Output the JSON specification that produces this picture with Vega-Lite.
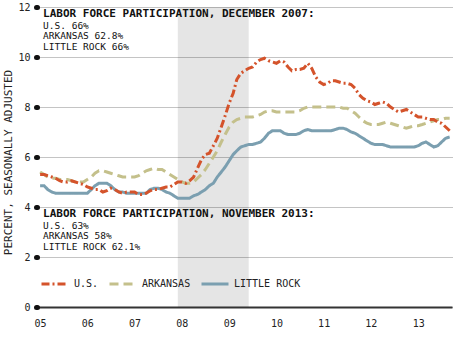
{
  "$schema": "https://vega.github.io/schema/vega-lite/v6.json",
  "width": 415,
  "height": 300,
  "autosize": {"type": "none"},
  "padding": {"left": 37, "top": 7, "right": 3, "bottom": 41},
  "background": "white",
  "config": {
    "view": {"stroke": null},
    "font": "DejaVu Sans Mono"
  },
  "datasets": {
    "rates": [
      {"d":"2005-01-01","us":5.3,"ar":5.4,"lr":4.85},
      {"d":"2005-02-01","us":5.3,"ar":5.3,"lr":4.85},
      {"d":"2005-03-01","us":5.25,"ar":5.2,"lr":4.7},
      {"d":"2005-04-01","us":5.2,"ar":5.15,"lr":4.6},
      {"d":"2005-05-01","us":5.15,"ar":5.15,"lr":4.55},
      {"d":"2005-06-01","us":5.05,"ar":5.1,"lr":4.55},
      {"d":"2005-07-01","us":5.0,"ar":5.1,"lr":4.55},
      {"d":"2005-08-01","us":5.0,"ar":5.1,"lr":4.55},
      {"d":"2005-09-01","us":5.05,"ar":5.05,"lr":4.55},
      {"d":"2005-10-01","us":5.0,"ar":5.0,"lr":4.55},
      {"d":"2005-11-01","us":4.95,"ar":5.0,"lr":4.55},
      {"d":"2005-12-01","us":4.9,"ar":5.0,"lr":4.55},
      {"d":"2006-01-01","us":4.8,"ar":5.1,"lr":4.55},
      {"d":"2006-02-01","us":4.75,"ar":5.2,"lr":4.7},
      {"d":"2006-03-01","us":4.7,"ar":5.35,"lr":4.85},
      {"d":"2006-04-01","us":4.7,"ar":5.45,"lr":4.95},
      {"d":"2006-05-01","us":4.6,"ar":5.45,"lr":4.95},
      {"d":"2006-06-01","us":4.65,"ar":5.4,"lr":4.95},
      {"d":"2006-07-01","us":4.75,"ar":5.35,"lr":4.85},
      {"d":"2006-08-01","us":4.7,"ar":5.3,"lr":4.7},
      {"d":"2006-09-01","us":4.6,"ar":5.25,"lr":4.6},
      {"d":"2006-10-01","us":4.55,"ar":5.2,"lr":4.6},
      {"d":"2006-11-01","us":4.6,"ar":5.2,"lr":4.55},
      {"d":"2006-12-01","us":4.6,"ar":5.2,"lr":4.55},
      {"d":"2007-01-01","us":4.6,"ar":5.2,"lr":4.55},
      {"d":"2007-02-01","us":4.5,"ar":5.25,"lr":4.55},
      {"d":"2007-03-01","us":4.5,"ar":5.35,"lr":4.55},
      {"d":"2007-04-01","us":4.55,"ar":5.45,"lr":4.55},
      {"d":"2007-05-01","us":4.65,"ar":5.5,"lr":4.7},
      {"d":"2007-06-01","us":4.7,"ar":5.55,"lr":4.75},
      {"d":"2007-07-01","us":4.7,"ar":5.5,"lr":4.75},
      {"d":"2007-08-01","us":4.75,"ar":5.5,"lr":4.7},
      {"d":"2007-09-01","us":4.8,"ar":5.4,"lr":4.6},
      {"d":"2007-10-01","us":4.8,"ar":5.3,"lr":4.55},
      {"d":"2007-11-01","us":4.9,"ar":5.2,"lr":4.45},
      {"d":"2007-12-01","us":5.0,"ar":5.1,"lr":4.35},
      {"d":"2008-01-01","us":5.0,"ar":5.0,"lr":4.35},
      {"d":"2008-02-01","us":4.95,"ar":4.95,"lr":4.35},
      {"d":"2008-03-01","us":5.05,"ar":4.95,"lr":4.35},
      {"d":"2008-04-01","us":5.2,"ar":5.0,"lr":4.45},
      {"d":"2008-05-01","us":5.55,"ar":5.15,"lr":4.5},
      {"d":"2008-06-01","us":5.9,"ar":5.3,"lr":4.6},
      {"d":"2008-07-01","us":6.1,"ar":5.5,"lr":4.7},
      {"d":"2008-08-01","us":6.15,"ar":5.75,"lr":4.85},
      {"d":"2008-09-01","us":6.45,"ar":6.0,"lr":4.95},
      {"d":"2008-10-01","us":6.75,"ar":6.25,"lr":5.2},
      {"d":"2008-11-01","us":7.2,"ar":6.6,"lr":5.4},
      {"d":"2008-12-01","us":7.65,"ar":6.9,"lr":5.6},
      {"d":"2009-01-01","us":8.15,"ar":7.2,"lr":5.85},
      {"d":"2009-02-01","us":8.55,"ar":7.4,"lr":6.1},
      {"d":"2009-03-01","us":9.1,"ar":7.5,"lr":6.25},
      {"d":"2009-04-01","us":9.35,"ar":7.55,"lr":6.4},
      {"d":"2009-05-01","us":9.45,"ar":7.6,"lr":6.45},
      {"d":"2009-06-01","us":9.55,"ar":7.6,"lr":6.5},
      {"d":"2009-07-01","us":9.6,"ar":7.6,"lr":6.5},
      {"d":"2009-08-01","us":9.8,"ar":7.65,"lr":6.55},
      {"d":"2009-09-01","us":9.9,"ar":7.7,"lr":6.6},
      {"d":"2009-10-01","us":9.95,"ar":7.8,"lr":6.75},
      {"d":"2009-11-01","us":9.85,"ar":7.85,"lr":6.95},
      {"d":"2009-12-01","us":9.8,"ar":7.85,"lr":7.05},
      {"d":"2010-01-01","us":9.75,"ar":7.8,"lr":7.05},
      {"d":"2010-02-01","us":9.85,"ar":7.8,"lr":7.05},
      {"d":"2010-03-01","us":9.8,"ar":7.8,"lr":6.95},
      {"d":"2010-04-01","us":9.6,"ar":7.8,"lr":6.9},
      {"d":"2010-05-01","us":9.45,"ar":7.8,"lr":6.9},
      {"d":"2010-06-01","us":9.5,"ar":7.8,"lr":6.9},
      {"d":"2010-07-01","us":9.5,"ar":7.85,"lr":6.95},
      {"d":"2010-08-01","us":9.55,"ar":7.95,"lr":7.05},
      {"d":"2010-09-01","us":9.75,"ar":8.0,"lr":7.1},
      {"d":"2010-10-01","us":9.55,"ar":8.0,"lr":7.05},
      {"d":"2010-11-01","us":9.2,"ar":8.0,"lr":7.05},
      {"d":"2010-12-01","us":9.0,"ar":8.0,"lr":7.05},
      {"d":"2011-01-01","us":8.9,"ar":8.0,"lr":7.05},
      {"d":"2011-02-01","us":8.95,"ar":8.0,"lr":7.05},
      {"d":"2011-03-01","us":9.05,"ar":8.0,"lr":7.05},
      {"d":"2011-04-01","us":9.05,"ar":8.0,"lr":7.1},
      {"d":"2011-05-01","us":9.0,"ar":8.0,"lr":7.15},
      {"d":"2011-06-01","us":8.95,"ar":7.95,"lr":7.15},
      {"d":"2011-07-01","us":8.95,"ar":7.95,"lr":7.1},
      {"d":"2011-08-01","us":8.9,"ar":7.85,"lr":7.0},
      {"d":"2011-09-01","us":8.75,"ar":7.75,"lr":6.95},
      {"d":"2011-10-01","us":8.5,"ar":7.6,"lr":6.85},
      {"d":"2011-11-01","us":8.35,"ar":7.45,"lr":6.75},
      {"d":"2011-12-01","us":8.25,"ar":7.35,"lr":6.65},
      {"d":"2012-01-01","us":8.2,"ar":7.3,"lr":6.55},
      {"d":"2012-02-01","us":8.1,"ar":7.3,"lr":6.5},
      {"d":"2012-03-01","us":8.15,"ar":7.3,"lr":6.5},
      {"d":"2012-04-01","us":8.2,"ar":7.35,"lr":6.5},
      {"d":"2012-05-01","us":8.15,"ar":7.4,"lr":6.45},
      {"d":"2012-06-01","us":8.0,"ar":7.35,"lr":6.4},
      {"d":"2012-07-01","us":7.9,"ar":7.3,"lr":6.4},
      {"d":"2012-08-01","us":7.8,"ar":7.25,"lr":6.4},
      {"d":"2012-09-01","us":7.85,"ar":7.2,"lr":6.4},
      {"d":"2012-10-01","us":7.9,"ar":7.15,"lr":6.4},
      {"d":"2012-11-01","us":7.8,"ar":7.2,"lr":6.4},
      {"d":"2012-12-01","us":7.7,"ar":7.25,"lr":6.4},
      {"d":"2013-01-01","us":7.6,"ar":7.25,"lr":6.45},
      {"d":"2013-02-01","us":7.6,"ar":7.3,"lr":6.55},
      {"d":"2013-03-01","us":7.55,"ar":7.35,"lr":6.6},
      {"d":"2013-04-01","us":7.5,"ar":7.4,"lr":6.5},
      {"d":"2013-05-01","us":7.5,"ar":7.45,"lr":6.4},
      {"d":"2013-06-01","us":7.4,"ar":7.5,"lr":6.45},
      {"d":"2013-07-01","us":7.35,"ar":7.5,"lr":6.6},
      {"d":"2013-08-01","us":7.2,"ar":7.55,"lr":6.75},
      {"d":"2013-09-01","us":7.05,"ar":7.55,"lr":6.8}
    ],
    "recession": [
      {"start":"2007-12-01","end":"2009-06-01"}
    ]
  },
  "layer": [
    {
      "data": {"name": "recession"},
      "mark": {"type": "rect", "fill": "#000000", "fillOpacity": 0.1},
      "encoding": {
        "x": {"field": "start", "type": "temporal"},
        "x2": {"field": "end"}
      }
    },
    {
      "data": {"name": "rates"},
      "transform": [
        {"fold": ["lr", "ar", "us"], "as": ["series", "value"]}
      ],
      "mark": {"type": "line", "strokeWidth": 3, "strokeCap": "butt"},
      "encoding": {
        "x": {
          "field": "d",
          "type": "temporal",
          "scale": {
            "type": "utc",
            "domain": [
              {"year": 2004, "month": 12, "date": 8, "utc": true},
              {"year": 2013, "month": 9, "date": 19, "utc": true}
            ]
          },
          "axis": {
            "title": null,
            "format": "%y",
            "tickCount": {"interval": "year", "step": 1},
            "ticks": false,
            "tickSize": 0,
            "grid": false,
            "domain": true,
            "domainColor": "#333333",
            "domainWidth": 2,
            "labelFont": "DejaVu Sans Mono",
            "labelFontSize": 10,
            "labelColor": "#222222",
            "labelPadding": 11,
            "labelFlush": false
          }
        },
        "y": {
          "field": "value",
          "type": "quantitative",
          "scale": {"domain": [0, 12], "nice": false},
          "axis": {
            "values": [0, 2, 4, 6, 8, 10, 12],
            "grid": true,
            "gridDash": [1, 1],
            "gridColor": "#888888",
            "gridWidth": 1,
            "domain": false,
            "ticks": true,
            "tickSize": 1,
            "tickWidth": 5,
            "tickCap": "round",
            "tickColor": "#111111",
            "labelFont": "DejaVu Sans Mono",
            "labelFontSize": 10,
            "labelColor": "#222222",
            "labelPadding": 6,
            "title": "PERCENT, SEASONALLY ADJUSTED",
            "titleFont": "DejaVu Sans Mono",
            "titleFontSize": 11,
            "titleFontWeight": "normal",
            "titleColor": "#222222",
            "titleX": -29,
            "titleY": 155,
            "titleAngle": -90,
            "titleAlign": "center",
            "titleBaseline": "middle"
          }
        },
        "color": {
          "field": "series",
          "type": "nominal",
          "scale": {"domain": ["us", "ar", "lr"], "range": ["#d4532b", "#c4c08b", "#7b9fb0"]},
          "legend": {
            "title": null,
            "orient": "none",
            "legendX": 3,
            "legendY": 262,
            "direction": "horizontal",
            "columns": 3,
            "padding": 0,
            "symbolType": "stroke",
            "symbolSize": 729,
            "symbolStrokeWidth": 3,
            "labelFont": "DejaVu Sans Mono",
            "labelFontSize": 10,
            "labelColor": "#222222",
            "labelOffset": 4,
            "columnPadding": 4,
            "labelExpr": "datum.value == 'us' ? 'U.S.' : datum.value == 'ar' ? 'ARKANSAS' : 'LITTLE ROCK'"
          }
        },
        "strokeDash": {
          "field": "series",
          "type": "nominal",
          "scale": {"domain": ["us", "ar", "lr"], "range": [[8, 3, 2, 3], [9, 5], [1, 0]]},
          "legend": {
            "title": null,
            "orient": "none",
            "legendX": 3,
            "legendY": 262,
            "direction": "horizontal",
            "columns": 3,
            "padding": 0,
            "symbolType": "stroke",
            "symbolSize": 729,
            "symbolStrokeWidth": 3,
            "labelFont": "DejaVu Sans Mono",
            "labelFontSize": 10,
            "labelColor": "#222222",
            "labelOffset": 4,
            "columnPadding": 4,
            "labelExpr": "datum.value == 'us' ? 'U.S.' : datum.value == 'ar' ? 'ARKANSAS' : 'LITTLE ROCK'"
          }
        }
      }
    },
    {
      "data": {"values": [{}]},
      "mark": {"type": "text", "align": "left", "baseline": "alphabetic", "font": "DejaVu Sans Mono", "fontSize": 11, "fontWeight": "bold", "color": "#111111"},
      "encoding": {
        "x": {"datum": {"year": 2005, "month": 1, "date": 24, "utc": true}, "type": "temporal"},
        "y": {"datum": 11.6, "type": "quantitative"},
        "text": {"value": "LABOR FORCE PARTICIPATION, DECEMBER 2007:"}
      }
    },
    {
      "data": {"values": [{}]},
      "mark": {"type": "text", "align": "left", "baseline": "alphabetic", "font": "DejaVu Sans Mono", "fontSize": 9.5, "lineHeight": 10.5, "color": "#111111"},
      "encoding": {
        "x": {"datum": {"year": 2005, "month": 1, "date": 24, "utc": true}, "type": "temporal"},
        "y": {"datum": 11.14, "type": "quantitative"},
        "text": {"value": ["U.S. 66%", "ARKANSAS 62.8%", "LITTLE ROCK 66%"]}
      }
    },
    {
      "data": {"values": [{}]},
      "mark": {"type": "text", "align": "left", "baseline": "alphabetic", "font": "DejaVu Sans Mono", "fontSize": 11, "fontWeight": "bold", "color": "#111111"},
      "encoding": {
        "x": {"datum": {"year": 2005, "month": 1, "date": 24, "utc": true}, "type": "temporal"},
        "y": {"datum": 3.6, "type": "quantitative"},
        "text": {"value": "LABOR FORCE PARTICIPATION, NOVEMBER 2013:"}
      }
    },
    {
      "data": {"values": [{}]},
      "mark": {"type": "text", "align": "left", "baseline": "alphabetic", "font": "DejaVu Sans Mono", "fontSize": 9.5, "lineHeight": 10.5, "color": "#111111"},
      "encoding": {
        "x": {"datum": {"year": 2005, "month": 1, "date": 24, "utc": true}, "type": "temporal"},
        "y": {"datum": 3.14, "type": "quantitative"},
        "text": {"value": ["U.S. 63%", "ARKANSAS 58%", "LITTLE ROCK 62.1%"]}
      }
    }
  ]
}
